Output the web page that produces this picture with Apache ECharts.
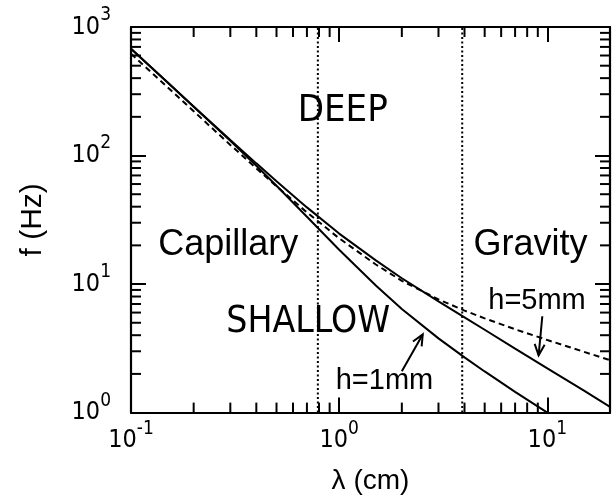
<!DOCTYPE html>
<html>
<head>
<meta charset="utf-8">
<script src="https://cdn.jsdelivr.net/npm/echarts/dist/echarts.min.js"></script>
<style>
html,body{margin:0;padding:0;background:#fff;}
#chart{width:616px;height:500px;}
</style>
</head>
<body>
<div id="chart"></div>
<script>
// ---- data ----
const lambda = [0.1, 0.15, 0.2, 0.3, 0.4, 0.5, 0.7, 1, 1.5, 2, 3, 4, 5, 7, 10, 15, 20];
const fDepth5mm = [678, 370, 241, 132, 86.9, 63.1, 39.5, 24.7, 15.3, 11.1, 7.34, 5.51, 4.41, 3.15, 2.21, 1.48, 1.11];
const fDepth1mm = [678, 370, 240, 130, 83.2, 58.2, 33.4, 18.5, 9.75, 6.40, 3.78, 2.69, 2.09, 1.45, 1.00];
const fDashed   = [620, 339, 221, 121, 79.5, 57.7, 36.1, 22.7, 14.2, 10.6, 7.6, 6.22, 5.41, 4.45, 3.67, 2.97, 2.56];
const dividerLambda = [0.79, 3.9];
const xRange = [0.1, 20];
const yRange = [1, 1000];
const xMinorTicks = [0.2,0.3,0.4,0.5,0.6,0.7,0.8,0.9, 2,3,4,5,6,7,8,9];
const yMinorTicks = [2,3,4,5,6,7,8,9, 20,30,40,50,60,70,80,90, 200,300,400,500,600,700,800,900];
const xAxisTitle = 'λ (cm)';
const yAxisTitle = 'f (Hz)';
const regionLabels = [
  {text: 'Capillary', x: 0.135, y: 20.1, align: 'left', font: 'reg', size: 36},
  {text: 'DEEP', x: 0.632, y: 223, align: 'left', font: 'narrow', size: 38},
  {text: 'SHALLOW', x: 0.287, y: 5.03, align: 'left', font: 'narrow', size: 37},
  {text: 'Gravity', x: 15.6, y: 20.1, align: 'right', font: 'reg', size: 36},
  {text: 'h=5mm', x: 15.3, y: 7.32, align: 'right', font: 'reg', size: 29},
  {text: 'h=1mm', x: 2.83, y: 1.75, align: 'right', font: 'reg', size: 29}
];
const arrows = [
  {from: [2.0, 2.10], to: [2.52, 4.06]},
  {from: [9.46, 5.62], to: [9.08, 2.79]}
];

const NARROW = '"Liberation Sans Narrow", "DejaVu Sans Condensed", "Liberation Sans", sans-serif';
const REG = '"Liberation Sans", Arial, sans-serif';

function zip(xs, ys) { return ys.map((y, i) => [xs[i], y]); }
function powLabel(v) {
  const e = Math.log10(v);
  const r = Math.round(e);
  if (Math.abs(e - r) > 1e-6) return '';
  return '{b|10}{s|' + r + '}';
}
const richPow = {
  b: {fontFamily: NARROW, fontSize: 25, lineHeight: 26, color: '#000'},
  s: {fontFamily: NARROW, fontSize: 19, lineHeight: 20, padding: [0, 0, 24, 0], color: '#000'}
};
const axisLineStyle = {color: '#000', width: 2.2};

const chart = echarts.init(document.getElementById('chart'), null, {renderer: 'canvas'});

function minorTickRender(dir) {
  return function (params, api) {
    const cs = params.coordSys;
    const v = api.value(0);
    const len = 10;
    const style = {stroke: '#000', lineWidth: 2};
    if (dir === 'x') {
      const p = api.coord([v, yRange[0]]);
      return {type: 'group', children: [
        {type: 'line', shape: {x1: p[0], y1: cs.y + cs.height, x2: p[0], y2: cs.y + cs.height - len}, style},
        {type: 'line', shape: {x1: p[0], y1: cs.y, x2: p[0], y2: cs.y + len}, style}
      ]};
    } else {
      const v2 = api.value(1);
      const p = api.coord([xRange[0], v2]);
      return {type: 'group', children: [
        {type: 'line', shape: {x1: cs.x, y1: p[1], x2: cs.x + len, y2: p[1]}, style},
        {type: 'line', shape: {x1: cs.x + cs.width, y1: p[1], x2: cs.x + cs.width - len, y2: p[1]}, style}
      ]};
    }
  };
}

const option = {
  animation: false,
  backgroundColor: '#fff',
  grid: {left: 131, top: 27, right: 6, bottom: 87, containLabel: false},
  xAxis: [
    {
      type: 'log', logBase: 10, min: xRange[0], max: xRange[1], position: 'bottom',
      name: xAxisTitle, nameLocation: 'middle', nameGap: 53,
      nameTextStyle: {fontFamily: REG, fontSize: 28, color: '#000'},
      axisLine: {show: true, onZero: false, lineStyle: axisLineStyle},
      axisTick: {show: true, inside: true, length: 15, lineStyle: {color: '#000', width: 2}},
      axisLabel: {show: true, margin: 15, formatter: powLabel, rich: richPow, showMaxLabel: false},
      splitLine: {show: false}, minorTick: {show: false}
    },
    {
      type: 'log', logBase: 10, min: xRange[0], max: xRange[1], position: 'top',
      axisLine: {show: true, onZero: false, lineStyle: axisLineStyle},
      axisTick: {show: true, inside: true, length: 15, lineStyle: {color: '#000', width: 2}},
      axisLabel: {show: false}, splitLine: {show: false}
    }
  ],
  yAxis: [
    {
      type: 'log', logBase: 10, min: yRange[0], max: yRange[1], position: 'left',
      name: yAxisTitle, nameLocation: 'middle', nameGap: 83, nameRotate: 90,
      nameTextStyle: {fontFamily: REG, fontSize: 30, color: '#000'},
      axisLine: {show: true, onZero: false, lineStyle: axisLineStyle},
      axisTick: {show: true, inside: true, length: 15, lineStyle: {color: '#000', width: 2}},
      axisLabel: {show: true, margin: 20, formatter: powLabel, rich: richPow},
      splitLine: {show: false}
    },
    {
      type: 'log', logBase: 10, min: yRange[0], max: yRange[1], position: 'right',
      axisLine: {show: true, onZero: false, lineStyle: axisLineStyle},
      axisTick: {show: true, inside: true, length: 15, lineStyle: {color: '#000', width: 2}},
      axisLabel: {show: false}, splitLine: {show: false}
    }
  ],
  series: [
    {
      name: 'h=5mm', type: 'line', data: zip(lambda, fDepth5mm), showSymbol: false, symbol: 'none',
      lineStyle: {color: '#000', width: 2}, silent: true, clip: true
    },
    {
      name: 'h=1mm', type: 'line', data: zip(lambda, fDepth1mm), showSymbol: false, symbol: 'none',
      lineStyle: {color: '#000', width: 2}, silent: true, clip: true
    },
    {
      name: 'dashed', type: 'line', data: zip(lambda, fDashed), showSymbol: false, symbol: 'none',
      lineStyle: {color: '#000', width: 2, type: [6, 4]}, silent: true, clip: true
    }
  ].concat(dividerLambda.map(l => ({
      type: 'line', data: [[l, yRange[0]], [l, yRange[1]]], showSymbol: false, symbol: 'none',
      lineStyle: {color: '#000', width: 2, type: [2, 2.5]}, silent: true
  }))).concat([
    {type: 'custom', renderItem: minorTickRender('x'), data: xMinorTicks.map(v => [v, yRange[0]]), silent: true, clip: false, z: 5},
    {type: 'custom', renderItem: minorTickRender('y'), data: yMinorTicks.map(v => [xRange[0], v]), silent: true, clip: false, z: 5}
  ])
};
chart.setOption(option);

// annotations placed through the chart's own coordinate conversion
const graphics = [];
regionLabels.forEach(l => {
  const p = chart.convertToPixel({gridIndex: 0}, [l.x, l.y]);
  graphics.push({
    type: 'text', x: p[0], y: p[1], silent: true,
    style: {text: l.text, fill: '#000', font: l.size + 'px ' + (l.font === 'narrow' ? NARROW : REG),
            textAlign: l.align, textVerticalAlign: 'middle'}
  });
});
arrows.forEach(a => {
  const p0 = chart.convertToPixel({gridIndex: 0}, a.from);
  const p1 = chart.convertToPixel({gridIndex: 0}, a.to);
  const dx = p1[0] - p0[0], dy = p1[1] - p0[1];
  const L = Math.sqrt(dx * dx + dy * dy);
  const ux = dx / L, uy = dy / L;
  const hl = 11, hw = 5;
  const bx = p1[0] - ux * hl, by = p1[1] - uy * hl;
  graphics.push({type: 'line', shape: {x1: p0[0], y1: p0[1], x2: p1[0], y2: p1[1]}, style: {stroke: '#000', lineWidth: 2}, silent: true});
  graphics.push({type: 'polyline', shape: {points: [[bx - uy * hw, by + ux * hw], [p1[0], p1[1]], [bx + uy * hw, by - ux * hw]]},
                 style: {stroke: '#000', lineWidth: 2, fill: null}, silent: true});
});
chart.setOption({graphic: graphics});
</script>
</body>
</html>
